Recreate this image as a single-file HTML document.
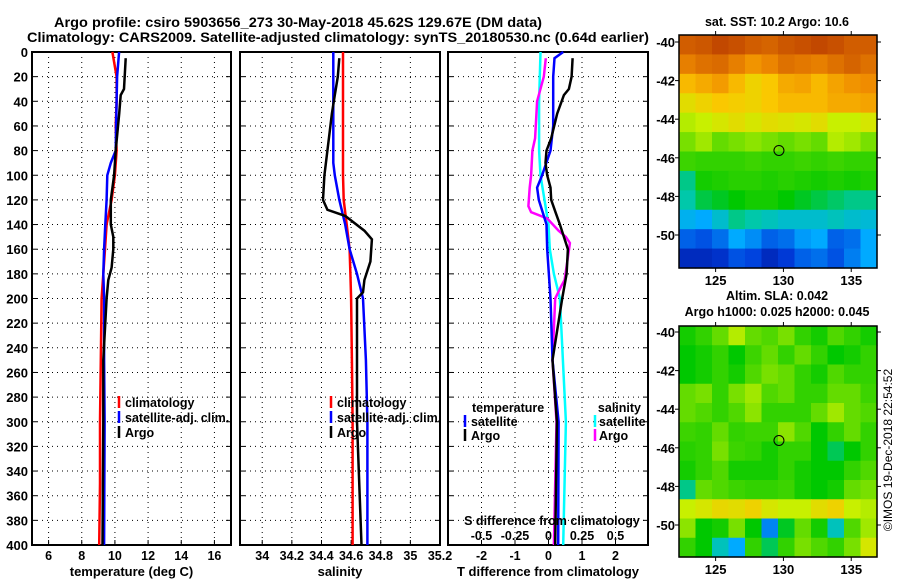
<!DOCTYPE html>
<html><head><meta charset="utf-8"><style>
body{margin:0;background:#fff}
svg{display:block;font-family:"Liberation Sans",sans-serif;font-weight:bold}
</style></head><body>
<svg id="c" width="900" height="580" viewBox="0 0 900 580" xmlns="http://www.w3.org/2000/svg">
<text x="54" y="27" font-size="14" textLength="488" lengthAdjust="spacingAndGlyphs">Argo profile: csiro 5903656_273 30-May-2018 45.62S 129.67E (DM data)</text>
<text x="27" y="42" font-size="14" textLength="622" lengthAdjust="spacingAndGlyphs">Climatology: CARS2009. Satellite-adjusted climatology: synTS_20180530.nc (0.64d earlier)</text>
<g id="plots"></g>
</svg>
<script>
// ---- data ----
const depthTicks=[0,20,40,60,80,100,120,140,160,180,200,220,240,260,280,300,320,340,360,380,400];
const tTicks=[6,8,10,12,14,16];
const sTicks=[34,34.2,34.4,34.6,34.8,35,35.2];
const dTicks=[-2,-1,0,1,2];
const sdTickLabels=["-0.5","-0.25","0","0.25","0.5"];
const climDepth=[0,20,40,60,80,100,120,140,160,180,200,250,300,350,400];
const climT=[9.85,10.1,10.1,10.05,10.1,10.0,9.8,9.5,9.4,9.3,9.2,9.15,9.1,9.1,9.05];
const satDepth=[0,20,40,60,80,90,100,120,140,160,180,200,250,300,400];
const satT=[10.25,10.13,10.1,10.07,10.05,9.75,9.54,9.5,9.42,9.35,9.3,9.35,9.35,9.38,9.35];
const argoDepth=[5,30,35,50,80,100,120,140,150,160,175,185,200,250,300,400];
const argoT=[10.65,10.55,10.35,10.26,10.05,9.95,9.75,9.75,9.9,9.9,9.8,9.6,9.5,9.3,9.3,9.25];
const climS=[34.545,34.545,34.545,34.545,34.545,34.545,34.55,34.57,34.59,34.595,34.6,34.605,34.61,34.61,34.61];
const satS=[34.48,34.48,34.48,34.48,34.48,34.48,34.49,34.52,34.56,34.59,34.64,34.68,34.7,34.71,34.71];
const argoSDepth=[5,20,35,50,80,100,120,128,133,145,152,170,185,195,200,250,300,400];
const argoS=[34.52,34.51,34.49,34.47,34.44,34.42,34.41,34.44,34.56,34.69,34.74,34.73,34.69,34.68,34.64,34.64,34.64,34.67];
const dTDepth=[0,5,20,60,80,100,110,120,140,160,200,250,300,400];
const satDT=[0.44,0.18,0.14,0.14,0.06,-0.19,-0.34,-0.29,-0.06,-0.04,0.06,0.12,0.3,0.29];
const argoDDepth=[5,20,30,35,50,70,80,90,100,110,120,130,140,150,160,180,200,250,300,400];
const argoDT=[0.72,0.69,0.61,0.46,0.26,0.08,-0.06,-0.09,-0.04,0.06,0.08,0.21,0.34,0.46,0.58,0.54,0.41,0.12,0.25,0.2];
const dSDepth=[0,40,80,100,120,140,160,180,200,300,400];
const satDS=[-0.06,-0.07,-0.07,-0.06,-0.03,0,0.01,0.04,0.085,0.13,0.11];
const argoDSDepth=[5,20,40,70,80,100,110,125,130,135,145,150,155,170,185,190,200,250,300,400];
const argoDS=[-0.02,-0.035,-0.085,-0.1,-0.12,-0.13,-0.14,-0.15,-0.13,-0.01,0.075,0.13,0.16,0.14,0.12,0.095,0.05,0.03,0.06,0.04];
const mapLatTicks=[-40,-42,-44,-46,-48,-50];
const mapLonTicks=[125,130,135];
const sstGrid=[
[0.93,0.94,0.96,0.95,0.93,0.92,0.94,0.95,0.96,0.95,0.93,0.93],
[0.88,0.9,0.91,0.88,0.85,0.87,0.9,0.89,0.88,0.9,0.92,0.9],
[0.8,0.82,0.84,0.8,0.76,0.78,0.82,0.83,0.8,0.83,0.85,0.86],
[0.74,0.76,0.78,0.77,0.76,0.78,0.8,0.8,0.8,0.82,0.82,0.83],
[0.68,0.7,0.72,0.74,0.72,0.74,0.73,0.72,0.74,0.7,0.7,0.72],
[0.62,0.66,0.6,0.62,0.64,0.62,0.6,0.62,0.6,0.68,0.66,0.62],
[0.56,0.55,0.55,0.55,0.56,0.55,0.55,0.56,0.55,0.56,0.55,0.55],
[0.42,0.52,0.53,0.54,0.54,0.53,0.54,0.53,0.52,0.53,0.52,0.53],
[0.4,0.46,0.48,0.5,0.52,0.52,0.5,0.48,0.46,0.44,0.42,0.42],
[0.32,0.3,0.36,0.42,0.4,0.38,0.36,0.36,0.36,0.38,0.36,0.35],
[0.2,0.18,0.22,0.3,0.26,0.2,0.22,0.28,0.3,0.2,0.22,0.3],
[0.1,0.1,0.12,0.18,0.16,0.1,0.14,0.2,0.22,0.18,0.24,0.3]];
const slaGrid=[
[0.52,0.55,0.6,0.68,0.6,0.58,0.62,0.55,0.52,0.58,0.55,0.52],
[0.5,0.52,0.55,0.5,0.56,0.6,0.55,0.6,0.55,0.5,0.52,0.55],
[0.5,0.52,0.55,0.52,0.58,0.62,0.6,0.55,0.52,0.58,0.55,0.55],
[0.6,0.62,0.55,0.62,0.66,0.58,0.6,0.55,0.55,0.6,0.6,0.56],
[0.6,0.58,0.55,0.58,0.64,0.55,0.55,0.55,0.6,0.66,0.6,0.58],
[0.56,0.55,0.6,0.55,0.56,0.56,0.64,0.58,0.5,0.55,0.6,0.55],
[0.54,0.55,0.62,0.56,0.55,0.52,0.55,0.55,0.5,0.45,0.5,0.55],
[0.52,0.55,0.58,0.52,0.52,0.52,0.55,0.52,0.5,0.5,0.55,0.58],
[0.42,0.6,0.58,0.56,0.55,0.55,0.56,0.52,0.5,0.52,0.6,0.62],
[0.7,0.72,0.75,0.74,0.76,0.72,0.7,0.7,0.74,0.76,0.7,0.68],
[0.64,0.5,0.52,0.62,0.5,0.25,0.48,0.6,0.52,0.38,0.58,0.66],
[0.55,0.5,0.38,0.3,0.55,0.45,0.55,0.62,0.58,0.55,0.62,0.72]];
const argoLon=129.67, argoLat=-45.62;

// ---- drawing ----
const NS="http://www.w3.org/2000/svg";
const root=document.getElementById('plots');
function mk(tag,at,parent){const e=document.createElementNS(NS,tag);for(const k in at)e.setAttribute(k,at[k]);(parent||root).appendChild(e);return e;}
const Y0=52,Y1=545;
const yD=d=>Y0+(d/400)*(Y1-Y0);
const panels=[
 {x0:32,x1:231,lo:5,hi:17,ticks:tTicks,label:"temperature (deg C)",name:"temperature"},
 {x0:240,x1:440,lo:33.85,hi:35.2,ticks:sTicks,label:"salinity",name:"salinity"},
 {x0:448,x1:648,lo:-3.0,hi:2.97,ticks:dTicks,label:"T difference from climatology",name:"difference"}];
panels.forEach((p,i)=>{
 p.fx=v=>p.x0+(v-p.lo)/(p.hi-p.lo)*(p.x1-p.x0);
 const g=mk('g',{});
 
 
 depthTicks.forEach(d=>{
  if(d>0&&d<400){const l=mk('line',{x1:p.x0,x2:p.x1,y1:yD(d),y2:yD(d),stroke:'#000','stroke-width':1,'stroke-dasharray':'1,4'},g);
   }
  mk('line',{x1:p.x0,x2:p.x0+5,y1:yD(d),y2:yD(d),stroke:'#000'},g);
  mk('line',{x1:p.x1-5,x2:p.x1,y1:yD(d),y2:yD(d),stroke:'#000'},g);
  if(i===0){const t=mk('text',{x:28,y:yD(d)+5,'font-size':13,'text-anchor':'end'},g);t.textContent=d;
   }
 });
 p.ticks.forEach((v,k)=>{
  const x=p.fx(v);
  if(x>p.x0+1&&x<p.x1-1){const l=mk('line',{x1:x,x2:x,y1:Y0,y2:Y1,stroke:'#000','stroke-dasharray':'1,4'},g);
   }
  mk('line',{x1:x,x2:x,y1:Y1,y2:Y1-5,stroke:'#000'},g);
  const t=mk('text',{x:x,y:560,'font-size':12.5,'text-anchor':'middle'},g);t.textContent=v;
  
 });
 mk('rect',{x:p.x0,y:Y0,width:p.x1-p.x0,height:Y1-Y0,fill:'none',stroke:'#000','stroke-width':2},g);
 const t=mk('text',{x:(p.x0+p.x1)/2,y:576,'font-size':13,'text-anchor':'middle'},g);t.textContent=p.label;
 
});
function line(p,depths,vals,col,name,scale){
 const pts=depths.map((d,i)=>p.fx(vals[i]*(scale||1)).toFixed(1)+','+yD(d).toFixed(1)).join(' ');
 const e=mk('polyline',{points:pts,fill:'none',stroke:col,'stroke-width':2.5});
 
 
}
line(panels[0],climDepth,climT,'#f00','temp-climatology-line');
line(panels[0],satDepth,satT,'#00f','temp-satellite-line');
line(panels[0],argoDepth,argoT,'#000','temp-argo-line');
line(panels[1],climDepth,climS,'#f00','sal-climatology-line');
line(panels[1],satDepth,satS,'#00f','sal-satellite-line');
line(panels[1],argoSDepth,argoS,'#000','sal-argo-line');
line(panels[2],dSDepth,satDS,'#0ff','sdiff-satellite-line',4);
line(panels[2],argoDSDepth,argoDS,'#f0f','sdiff-argo-line',4);
line(panels[2],dTDepth,satDT,'#00f','tdiff-satellite-line');
line(panels[2],argoDDepth,argoDT,'#000','tdiff-argo-line');
dTicks.forEach((v,k)=>{const t=mk('text',{x:panels[2].fx(v),y:540,'font-size':12.5,'text-anchor':'middle'});t.textContent=sdTickLabels[k];
 });
{const t=mk('text',{x:552,y:525,'font-size':12.5,'text-anchor':'middle'});t.textContent='S difference from climatology';
 }
function leg(bx,tx,y,col,txt,anchor){
 const g=mk('g',{});
 
 
 if(col)mk('line',{x1:bx,x2:bx,y1:y-11,y2:y+1,stroke:col,'stroke-width':2.5},g);
 const t=mk('text',{x:tx,y:y,'font-size':12.5,'text-anchor':anchor||'start',fill:'#000'},g);t.textContent=txt;
}
[[407,'#f00','climatology'],[422,'#00f','satellite-adj. clim.'],[437,'#000','Argo']].forEach(a=>{leg(119,125,a[0],a[1],a[2]);leg(331,337,a[0],a[1],a[2]);});
leg(0,472,412,null,'temperature');leg(465,471,426,'#00f','satellite');leg(465,471,440,'#000','Argo');
leg(0,641,412,null,'salinity','end');leg(595,599,426,'#0ff','satellite');leg(595,599,440,'#f0f','Argo');
// colormap (approximating the reference palette)
const cmStops=[[0,0,10,130],[0.15,0,60,220],[0.3,0,170,255],[0.4,0,200,170],[0.5,0,200,0],[0.6,100,220,0],[0.7,200,240,0],[0.78,250,200,0],[0.86,240,140,0],[0.95,200,80,0],[1,170,40,0]];
function cmap(v){v=Math.max(0,Math.min(1,v));
 for(let i=1;i<cmStops.length;i++){const a=cmStops[i-1],b=cmStops[i];
  if(v<=b[0]){const t=(v-a[0])/(b[0]-a[0]);return `rgb(${Math.round(a[1]+t*(b[1]-a[1]))},${Math.round(a[2]+t*(b[2]-a[2]))},${Math.round(a[3]+t*(b[3]-a[3]))})`;}}
 return 'rgb(170,40,0)';}
function map(grid,top,bot,name,ylat40){
 const x0=679,x1=877,lon0=122.3,lon1=136.9;
 const degpx=19.3;
 const fx=l=>x0+(l-lon0)/(lon1-lon0)*(x1-x0), fy=la=>ylat40+(-40-la)*degpx;
 const g=mk('g',{});
 
 
 const nr=grid.length,nc=grid[0].length,cw=(x1-x0)/nc,ch=(bot-top)/nr;
 grid.forEach((row,r)=>row.forEach((v,c)=>{
  const e=mk('rect',{x:x0+c*cw,y:top+r*ch,width:cw+0.6,height:ch+0.6,fill:cmap(v)},g);
  
  
 }));
 mk('rect',{x:x0,y:top,width:x1-x0,height:bot-top,fill:'none',stroke:'#000','stroke-width':1.5},g);
 mapLatTicks.forEach(la=>{const y=fy(la);mk('line',{x1:x0-4,x2:x0,y1:y,y2:y,stroke:'#000'},g);mk('line',{x1:x1,x2:x1+4,y1:y,y2:y,stroke:'#000'},g);
  const t=mk('text',{x:x0-4,y:y+5,'font-size':13,'text-anchor':'end'},g);t.textContent=la;
  });
 mapLonTicks.forEach(lo=>{const x=fx(lo);mk('line',{x1:x,x2:x,y1:top-4,y2:top,stroke:'#000'},g);mk('line',{x1:x,x2:x,y1:bot,y2:bot+4,stroke:'#000'},g);
  const t=mk('text',{x:x,y:bot+17,'font-size':13,'text-anchor':'middle'},g);t.textContent=lo;
  });
 const c=mk('circle',{cx:fx(argoLon),cy:fy(argoLat),r:5,fill:'none',stroke:'#000','stroke-width':1},g);
 
 
}
map(sstGrid,35,268,'sst-map',42);
map(slaGrid,326,557,'sla-map',332);
[[777,26,'sat. SST: 10.2  Argo: 10.6','sst-map-title'],[777,300,'Altim. SLA: 0.042','sla-map-title'],[777,316,'Argo h1000: 0.025 h2000: 0.045','sla-argo-title']].forEach(a=>{
 const t=mk('text',{x:a[0],y:a[1],'font-size':12.5,'text-anchor':'middle'});t.textContent=a[2];
 });
{const t=mk('text',{x:892,y:450,'font-size':12,'font-weight':'normal','text-anchor':'middle',transform:'rotate(-90 892 450)'});t.textContent='©IMOS 19-Dec-2018 22:54:52';
 }
</script>
</body></html>
